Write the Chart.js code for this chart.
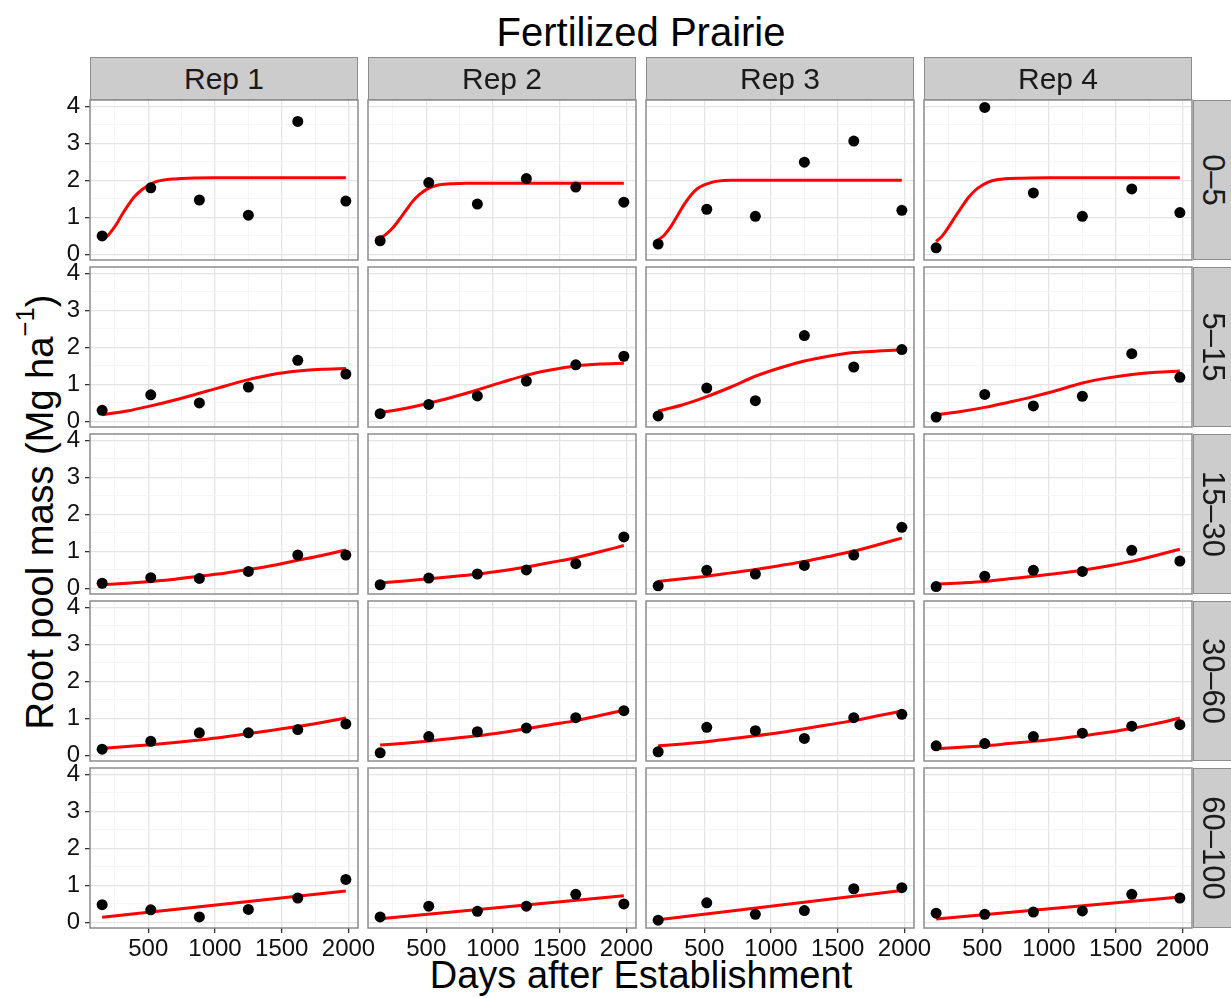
<!DOCTYPE html>
<html>
<head>
<meta charset="utf-8">
<script src="https://cdn.jsdelivr.net/npm/chart.js@4.4.1/dist/chart.umd.min.js"></script>
<style>
  body { margin: 0; background: #fff; }
  #fig {
    position: relative; width: 1231px; height: 998px; overflow: hidden;
    font-family: "Liberation Sans", Arial, sans-serif; color: #000;
  }
  #fig canvas { position: absolute; }
  .strip {
    position: absolute; box-sizing: border-box;
    background: #cccccc; border: 1px solid #8c8c8c;
    display: flex; align-items: center; justify-content: center;
    font-size: 30px; color: #1a1a1a; white-space: nowrap;
  }
  .strip.side { font-size: 31px; }
  .strip.side span { display: inline-block; transform: rotate(90deg); }
  .label { position: absolute; white-space: nowrap; transform: translate(-50%, -50%); }
  .label.yaxis { transform: translate(-50%, -50%) rotate(-90deg); }
  sup { font-size: 0.68em; vertical-align: 0.7em; line-height: 0; }
</style>
</head>
<body>
<div id="fig">
  <div class="label" style="left:641px; top:32px; font-size:40px;">Fertilized Prairie</div>
  <div class="label" style="left:641px; top:975px; font-size:38px;">Days after Establishment</div>
  <div class="label yaxis" style="left:40px; top:512px; font-size:38px;">Root pool mass (Mg ha<sup>−1</sup>)</div>
</div>
<script>
// facets
const reps = ['Rep 1', 'Rep 2', 'Rep 3', 'Rep 4'];
const depths = ['0–5', '5–15', '15–30', '30–60', '60–100'];

// sampling days (x of the points)
const days = [155, 519, 883, 1250, 1620, 1980];

// axis breaks
const xMajor = [500, 1000, 1500, 2000];
const xMinor = [250, 750, 1250, 1750];
const yMajor = [0, 1, 2, 3, 4];
const yMinor = [0.5, 1.5, 2.5, 3.5];

// observed root pool mass, one array per rep
const obs0to5 = [
  [0.50, 1.80, 1.47, 1.06, 3.59, 1.44],
  [0.37, 1.94, 1.36, 2.05, 1.82, 1.41],
  [0.28, 1.22, 1.03, 2.49, 3.06, 1.19],
  [0.18, 3.97, 1.66, 1.03, 1.77, 1.13]
];
const obs5to15 = [
  [0.30, 0.72, 0.50, 0.93, 1.65, 1.28],
  [0.21, 0.46, 0.69, 1.09, 1.53, 1.76],
  [0.15, 0.90, 0.56, 2.32, 1.47, 1.94],
  [0.12, 0.73, 0.42, 0.68, 1.83, 1.19]
];
const obs15to30 = [
  [0.14, 0.29, 0.27, 0.46, 0.90, 0.90],
  [0.10, 0.28, 0.39, 0.50, 0.67, 1.39],
  [0.07, 0.49, 0.39, 0.62, 0.90, 1.65],
  [0.05, 0.33, 0.49, 0.46, 1.03, 0.74]
];
const obs30to60 = [
  [0.17, 0.38, 0.61, 0.61, 0.70, 0.85],
  [0.07, 0.51, 0.64, 0.74, 1.02, 1.21],
  [0.10, 0.76, 0.67, 0.46, 1.02, 1.11],
  [0.26, 0.32, 0.51, 0.60, 0.79, 0.83]
];
const obs60to100 = [
  [0.48, 0.34, 0.15, 0.35, 0.66, 1.16],
  [0.15, 0.44, 0.30, 0.44, 0.76, 0.50],
  [0.06, 0.53, 0.22, 0.32, 0.91, 0.94],
  [0.25, 0.22, 0.28, 0.31, 0.76, 0.66]
];

// fitted curves
const fitDaysTop = [155, 200, 250, 300, 350, 400, 450, 500, 550, 600, 700, 800, 1000, 1500, 1980];
const fitDaysMid = [155, 340, 519, 700, 883, 1070, 1250, 1430, 1620, 1800, 1980];
const fitDaysLin = [155, 1980];

const fit0to5 = [
  [0.39, 0.52, 0.75, 1.05, 1.33, 1.57, 1.74, 1.86, 1.95, 2.00, 2.04, 2.06, 2.07, 2.07, 2.07],
  [0.44, 0.55, 0.72, 0.95, 1.20, 1.44, 1.62, 1.75, 1.83, 1.88, 1.91, 1.92, 1.92, 1.92, 1.92],
  [0.39, 0.52, 0.75, 1.05, 1.35, 1.60, 1.78, 1.88, 1.94, 1.98, 2.00, 2.00, 2.00, 2.00, 2.00],
  [0.35, 0.50, 0.75, 1.03, 1.30, 1.55, 1.74, 1.87, 1.96, 2.01, 2.05, 2.06, 2.07, 2.07, 2.07]
];
const fit5to15 = [
  [0.18, 0.28, 0.42, 0.58, 0.76, 0.95, 1.13, 1.27, 1.36, 1.41, 1.43],
  [0.24, 0.35, 0.49, 0.66, 0.85, 1.06, 1.25, 1.39, 1.50, 1.55, 1.57],
  [0.28, 0.45, 0.67, 0.93, 1.22, 1.45, 1.63, 1.76, 1.86, 1.90, 1.93],
  [0.18, 0.27, 0.38, 0.52, 0.67, 0.85, 1.04, 1.17, 1.27, 1.33, 1.36]
];
const fit15to30 = [
  [0.10, 0.14, 0.19, 0.25, 0.33, 0.41, 0.51, 0.62, 0.76, 0.89, 1.04],
  [0.15, 0.20, 0.26, 0.32, 0.39, 0.48, 0.58, 0.70, 0.83, 0.99, 1.16],
  [0.19, 0.26, 0.33, 0.42, 0.51, 0.62, 0.73, 0.86, 1.01, 1.18, 1.36],
  [0.12, 0.15, 0.19, 0.26, 0.33, 0.41, 0.49, 0.60, 0.73, 0.89, 1.06]
];
const fit30to60 = [
  [0.19, 0.24, 0.29, 0.35, 0.42, 0.50, 0.59, 0.68, 0.78, 0.89, 1.01],
  [0.28, 0.33, 0.39, 0.46, 0.53, 0.62, 0.72, 0.83, 0.94, 1.08, 1.22],
  [0.26, 0.31, 0.37, 0.45, 0.53, 0.62, 0.72, 0.83, 0.94, 1.07, 1.20],
  [0.18, 0.22, 0.26, 0.32, 0.38, 0.45, 0.53, 0.62, 0.73, 0.86, 1.01]
];
const fit60to100 = [
  [0.14, 0.85],
  [0.10, 0.72],
  [0.07, 0.86],
  [0.09, 0.69]
];

const obsByDepth = [obs0to5, obs5to15, obs15to30, obs30to60, obs60to100];
const fitByDepth = [fit0to5, fit5to15, fit15to30, fit30to60, fit60to100];
const fitDaysByDepth = [fitDaysTop, fitDaysMid, fitDaysMid, fitDaysMid, fitDaysLin];

// panel geometry
const colLeft = [90, 368, 646, 924];
const rowTop = [100, 267, 434, 601, 768];
const panelW = 268, panelH = 160;
const margin = { left: 70, right: 30, top: 6, bottom: 46 };
const yAxisW = 60, xAxisH = 40;
const FONT = '"Liberation Sans", Arial, sans-serif';

const fig = document.getElementById('fig');

// grey frame round each panel, like theme_bw
const panelBorder = {
  id: 'panelBorder',
  afterDraw(chart) {
    const a = chart.chartArea, ctx = chart.ctx;
    ctx.save();
    ctx.strokeStyle = '#8c8c8c';
    ctx.lineWidth = 1.5;
    ctx.strokeRect(a.left, a.top, a.right - a.left, a.bottom - a.top);
    ctx.restore();
  }
};

function axis(pos, min, max, majors, minors, showLabels, size) {
  const all = majors.concat(minors).sort((a, b) => a - b);
  const isMajor = ctx => ctx.tick && majors.includes(ctx.tick.value);
  return {
    type: 'linear',
    position: pos,
    min: min,
    max: max,
    afterBuildTicks: s => { s.ticks = all.map(v => ({ value: v })); },
    afterFit: s => {
      if (pos === 'left') s.width = size; else s.height = size;
      s.paddingLeft = s.paddingRight = s.paddingTop = s.paddingBottom = 0;
    },
    border: { display: false },
    grid: {
      color: ctx => isMajor(ctx) ? '#e4e4e4' : '#f3f3f3',
      lineWidth: ctx => isMajor(ctx) ? 1.3 : 0.8,
      drawTicks: showLabels,
      tickLength: 5,
      tickWidth: 1.3,
      tickColor: ctx => isMajor(ctx) ? '#333' : 'rgba(0,0,0,0)'
    },
    ticks: {
      display: showLabels,
      autoSkip: false,
      maxRotation: 0,
      minRotation: 0,
      padding: pos === 'left' ? 5 : 2,
      color: '#111',
      font: { family: FONT, size: 24 },
      callback: v => majors.includes(v) ? String(v) : ''
    }
  };
}

function makePanel(r, c) {
  const showY = c === 0;
  const showX = r === depths.length - 1;
  const cv = document.createElement('canvas');
  cv.width = panelW + margin.left + margin.right;
  cv.height = panelH + margin.top + margin.bottom;
  cv.style.left = (colLeft[c] - margin.left) + 'px';
  cv.style.top = (rowTop[r] - margin.top) + 'px';
  fig.appendChild(cv);

  const yW = showY ? yAxisW : 0;
  const xH = showX ? xAxisH : 0;
  const padding = {
    left: margin.left - yW,
    right: margin.right,
    top: margin.top,
    bottom: margin.bottom - xH
  };

  const fitDays = fitDaysByDepth[r];
  const fit = fitByDepth[r][c];
  const obs = obsByDepth[r][c];

  new Chart(cv, {
    type: 'scatter',
    data: {
      datasets: [
        {
          type: 'line',
          data: fitDays.map((d, i) => ({ x: d, y: fit[i] })),
          borderColor: '#ff0000',
          borderWidth: 3,
          pointRadius: 0,
          cubicInterpolationMode: 'monotone',
          fill: false,
          order: 2
        },
        {
          data: days.map((d, i) => ({ x: d, y: obs[i] })),
          backgroundColor: '#000',
          borderWidth: 0,
          pointRadius: 5.5,
          order: 1
        }
      ]
    },
    options: {
      responsive: false,
      animation: false,
      devicePixelRatio: 1,
      layout: { padding: padding },
      plugins: { legend: { display: false }, tooltip: { enabled: false } },
      scales: {
        x: axis('bottom', 64, 2071, xMajor, xMinor, showX, xH),
        y: axis('left', -0.15, 4.17, yMajor, yMinor, showY, yW)
      }
    },
    plugins: [panelBorder]
  });
}

for (let r = 0; r < depths.length; r++) {
  for (let c = 0; c < reps.length; c++) makePanel(r, c);
}

// strips: reps on top, depths on the right
reps.forEach((name, c) => {
  const s = document.createElement('div');
  s.className = 'strip';
  s.style.left = colLeft[c] + 'px';
  s.style.top = '57px';
  s.style.width = panelW + 'px';
  s.style.height = '43px';
  s.textContent = name;
  fig.appendChild(s);
});
depths.forEach((name, r) => {
  const s = document.createElement('div');
  s.className = 'strip side';
  s.style.left = '1193px';
  s.style.top = rowTop[r] + 'px';
  s.style.width = '40px';
  s.style.height = panelH + 'px';
  const t = document.createElement('span');
  t.textContent = name;
  s.appendChild(t);
  fig.appendChild(s);
});
</script>
</body>
</html>
